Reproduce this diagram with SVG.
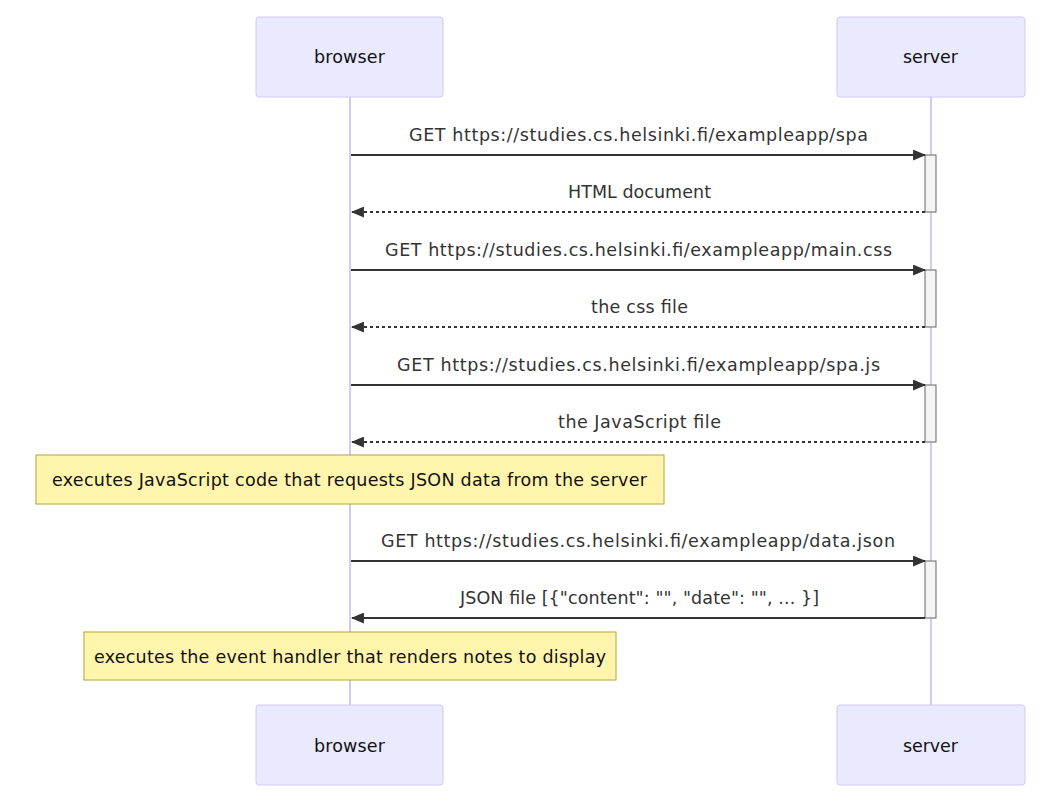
<svg xmlns="http://www.w3.org/2000/svg" width="1054" height="802" viewBox="0 0 1054 802">
<style>
.actor{fill:#eaeaff;stroke:#d4c8f4;stroke-width:1}
.atext{font-family:"DejaVu Sans",sans-serif;font-size:17.5px;fill:#111;text-anchor:middle;dominant-baseline:central}
.life{stroke:#d4c8f4;stroke-width:2}
.msg{stroke:#333;stroke-width:2;fill:none}
.dash{stroke-dasharray:3,3}
.mtext{font-family:"DejaVu Sans",sans-serif;font-size:17.5px;fill:#333;text-anchor:middle;dominant-baseline:central}
.act{fill:#f4f4f4;stroke:#666;stroke-width:1}
.note{fill:#fff5ad;stroke:#aaaa33;stroke-width:1}
.ntext{font-family:"DejaVu Sans",sans-serif;font-size:17.5px;fill:#111;text-anchor:middle;dominant-baseline:central}
</style>
<defs>
<marker id="arrow" viewBox="0 0 12 10" refX="11" refY="5" markerWidth="13" markerHeight="11" markerUnits="userSpaceOnUse" orient="auto">
<path d="M0,0 L12,5 L0,10 z" fill="#333"/>
</marker>
</defs>
<g id="lifelines">
<line class="life" x1="350" y1="97" x2="350" y2="705"/>
<line class="life" x1="931" y1="97" x2="931" y2="705"/>
</g>
<g id="actor-browser-top"><rect class="actor" x="256" y="17" width="187" height="80" rx="3"/><text class="atext" x="349.5" y="57" textLength="71" lengthAdjust="spacing">browser</text></g>
<g id="actor-server-top"><rect class="actor" x="837" y="17" width="188" height="80" rx="3"/><text class="atext" x="930.5" y="57" textLength="55" lengthAdjust="spacing">server</text></g>
<g id="actor-browser-bottom"><rect class="actor" x="256" y="705" width="187" height="80" rx="3"/><text class="atext" x="349.5" y="746" textLength="71" lengthAdjust="spacing">browser</text></g>
<g id="actor-server-bottom"><rect class="actor" x="837" y="705" width="188" height="80" rx="3"/><text class="atext" x="930.5" y="746" textLength="55" lengthAdjust="spacing">server</text></g>
<g id="activations">
<rect class="act" x="925" y="155" width="11" height="57"/>
<rect class="act" x="925" y="270" width="11" height="57"/>
<rect class="act" x="925" y="385" width="11" height="57"/>
<rect class="act" x="925" y="561" width="11" height="57"/>
</g>
<g id="connectors">
<line class="msg" x1="351" y1="155" x2="925" y2="155" marker-end="url(#arrow)"/>
<line class="msg dash" x1="925" y1="212" x2="352" y2="212" marker-end="url(#arrow)"/>
<line class="msg" x1="351" y1="270" x2="925" y2="270" marker-end="url(#arrow)"/>
<line class="msg dash" x1="925" y1="327" x2="352" y2="327" marker-end="url(#arrow)"/>
<line class="msg" x1="351" y1="385" x2="925" y2="385" marker-end="url(#arrow)"/>
<line class="msg dash" x1="925" y1="442" x2="352" y2="442" marker-end="url(#arrow)"/>
<line class="msg" x1="351" y1="561" x2="925" y2="561" marker-end="url(#arrow)"/>
<line class="msg" x1="925" y1="618" x2="352" y2="618" marker-end="url(#arrow)"/>
</g>
<g id="labels">
<text class="mtext" x="638.5" y="135" textLength="459" lengthAdjust="spacing">GET https://studies.cs.helsinki.fi/exampleapp/spa</text>
<text class="mtext" x="639.5" y="192" textLength="143" lengthAdjust="spacing">HTML document</text>
<text class="mtext" x="638.5" y="250" textLength="507" lengthAdjust="spacing">GET https://studies.cs.helsinki.fi/exampleapp/main.css</text>
<text class="mtext" x="639.5" y="307" textLength="97" lengthAdjust="spacing">the css file</text>
<text class="mtext" x="638.5" y="365" textLength="483" lengthAdjust="spacing">GET https://studies.cs.helsinki.fi/exampleapp/spa.js</text>
<text class="mtext" x="639.5" y="422" textLength="163" lengthAdjust="spacing">the JavaScript file</text>
<text class="mtext" x="638" y="541" textLength="514" lengthAdjust="spacing">GET https://studies.cs.helsinki.fi/exampleapp/data.json</text>
<text class="mtext" x="639.5" y="598" textLength="359" lengthAdjust="spacing">JSON file [{"content": "", "date": "", ... }]</text>
</g>
<g id="note1"><rect class="note" x="36" y="455" width="628" height="49"/><text class="ntext" x="349.5" y="479.5" textLength="595" lengthAdjust="spacing">executes JavaScript code that requests JSON data from the server</text></g>
<g id="note2"><rect class="note" x="84" y="632" width="532" height="48"/><text class="ntext" x="350" y="656.5" textLength="512" lengthAdjust="spacing">executes the event handler that renders notes to display</text></g>
</svg>
